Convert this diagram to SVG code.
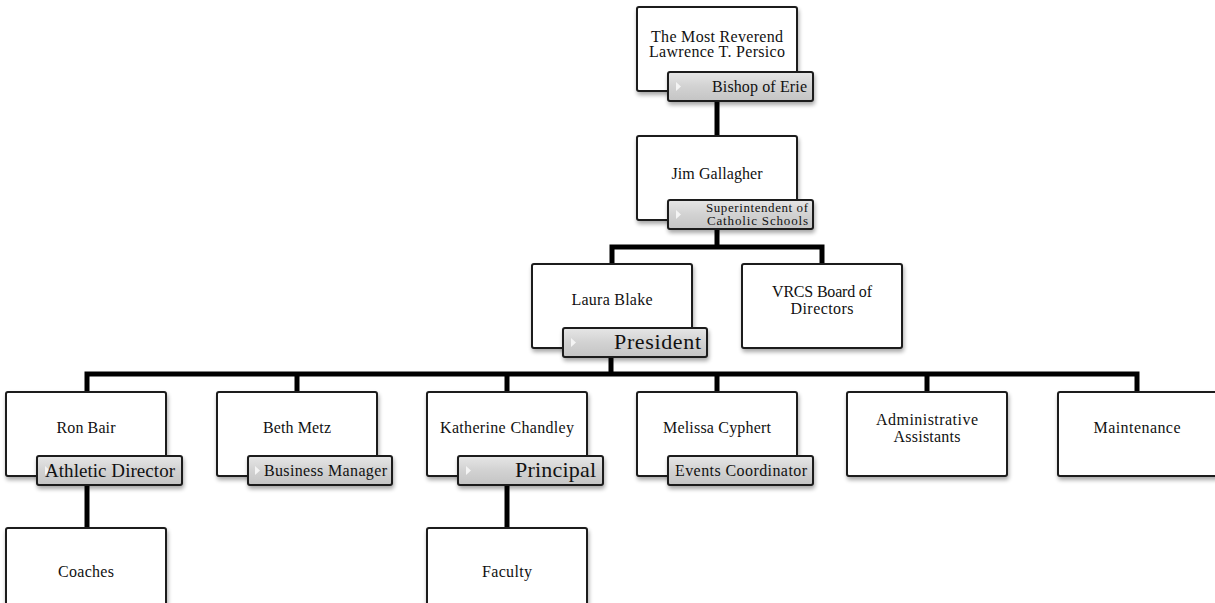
<svg xmlns="http://www.w3.org/2000/svg" width="1215" height="603" viewBox="0 0 1215 603">
<defs>
  <filter id="sh" x="-10%" y="-10%" width="130%" height="140%">
    <feGaussianBlur in="SourceAlpha" stdDeviation="2"/>
    <feOffset dx="1" dy="3" result="b"/>
    <feComponentTransfer><feFuncA type="linear" slope="0.35"/></feComponentTransfer>
    <feMerge><feMergeNode/><feMergeNode in="SourceGraphic"/></feMerge>
  </filter>
  <linearGradient id="lg" x1="0" y1="0" x2="0" y2="1">
    <stop offset="0" stop-color="#e6e6e6"/>
    <stop offset="0.5" stop-color="#d2d2d2"/>
    <stop offset="1" stop-color="#c4c4c4"/>
  </linearGradient>
</defs>
<style>
  .box{fill:#fff;stroke:#1a1a1a;stroke-width:2;filter:url(#sh)}
  .lab{fill:url(#lg);stroke:#1a1a1a;stroke-width:2;filter:url(#sh)}
  .tri{fill:#f4f4f4}
  .t{font-family:"Liberation Serif","DejaVu Serif",serif;font-size:16px;fill:#111;text-anchor:middle}
  .r{font-family:"Liberation Serif","DejaVu Serif",serif;fill:#111;text-anchor:end}
  .con{stroke:#000;stroke-width:5;fill:none}
</style>
<rect width="1215" height="603" fill="#fff"/>
<g id="connectors">
  <path class="con" d="M717 101 V136"/>
  <path class="con" d="M717 229 V247 M612 264 V247 H822 V264"/>
  <path class="con" d="M611 357 V374 M87 392 V374 H1137 V392 M297 374 V392 M507 374 V392 M717 374 V392 M927 374 V392"/>
  <path class="con" d="M87 486 V528"/>
  <path class="con" d="M507 486 V528"/>
</g>
<g id="bishop">
  <rect class="box" x="637" y="7" width="160" height="84" rx="2"/>
  <text class="t" x="717" y="42" textLength="132" lengthAdjust="spacing">The Most Reverend</text>
  <text class="t" x="717" y="57" textLength="136" lengthAdjust="spacing">Lawrence T. Persico</text>
  <rect class="lab" x="668" y="72" width="145" height="29" rx="2"/>
  <path class="tri" d="M676 82 L681 86.5 L676 91 Z"/>
  <text class="r" x="807" y="92" font-size="16" textLength="95" lengthAdjust="spacing">Bishop of Erie</text>
</g>
<g id="gallagher">
  <rect class="box" x="637" y="136" width="160" height="84" rx="2"/>
  <text class="t" x="717" y="179" textLength="91" lengthAdjust="spacing">Jim Gallagher</text>
  <rect class="lab" x="668" y="200" width="145" height="29" rx="2"/>
  <path class="tri" d="M676 210 L681 214.5 L676 219 Z"/>
  <text class="r" x="808" y="212" font-size="13" textLength="102" lengthAdjust="spacing">Superintendent of</text>
  <text class="r" x="808" y="225" font-size="13" textLength="101" lengthAdjust="spacing">Catholic Schools</text>
</g>
<g id="blake">
  <rect class="box" x="532" y="264" width="160" height="84" rx="2"/>
  <text class="t" x="612" y="305" textLength="81" lengthAdjust="spacing">Laura Blake</text>
  <rect class="lab" x="563" y="328" width="144" height="29" rx="2"/>
  <path class="tri" d="M571 338 L576 342.5 L571 347 Z"/>
  <text class="r" x="701" y="349" font-size="22" textLength="87" lengthAdjust="spacing">President</text>
</g>
<g id="board">
  <rect class="box" x="742" y="264" width="160" height="84" rx="2"/>
  <text class="t" x="822" y="297" textLength="100" lengthAdjust="spacing">VRCS Board of</text>
  <text class="t" x="822" y="314" textLength="63" lengthAdjust="spacing">Directors</text>
</g>
<g id="bair">
  <rect class="box" x="6" y="392" width="160" height="84" rx="2"/>
  <text class="t" x="86" y="433" textLength="59" lengthAdjust="spacing">Ron Bair</text>
  <rect class="lab" x="37" y="456" width="145" height="29" rx="2"/>
  <path class="tri" d="M45 466 L50 470.5 L45 475 Z"/>
  <text class="r" x="175" y="477" font-size="19" textLength="130" lengthAdjust="spacing">Athletic Director</text>
</g>
<g id="metz">
  <rect class="box" x="217" y="392" width="160" height="84" rx="2"/>
  <text class="t" x="297" y="433" textLength="68" lengthAdjust="spacing">Beth Metz</text>
  <rect class="lab" x="248" y="456" width="144" height="29" rx="2"/>
  <path class="tri" d="M255 466 L260 470.5 L255 475 Z"/>
  <text class="r" x="387" y="476" font-size="16" textLength="123" lengthAdjust="spacing">Business Manager</text>
</g>
<g id="chandley">
  <rect class="box" x="427" y="392" width="160" height="84" rx="2"/>
  <text class="t" x="507" y="433" textLength="134" lengthAdjust="spacing">Katherine Chandley</text>
  <rect class="lab" x="458" y="456" width="145" height="29" rx="2"/>
  <path class="tri" d="M466 466 L471 470.5 L466 475 Z"/>
  <text class="r" x="596" y="477" font-size="22" textLength="81" lengthAdjust="spacing">Principal</text>
</g>
<g id="cyphert">
  <rect class="box" x="637" y="392" width="160" height="84" rx="2"/>
  <text class="t" x="717" y="433" textLength="108" lengthAdjust="spacing">Melissa Cyphert</text>
  <rect class="lab" x="668" y="456" width="145" height="29" rx="2"/>
  <path class="tri" d="M676 466 L681 470.5 L676 475 Z"/>
  <text class="r" x="807" y="476" font-size="16" textLength="132" lengthAdjust="spacing">Events Coordinator</text>
</g>
<g id="assistants">
  <rect class="box" x="847" y="392" width="160" height="84" rx="2"/>
  <text class="t" x="927" y="425" textLength="102" lengthAdjust="spacing">Administrative</text>
  <text class="t" x="927" y="442" textLength="67" lengthAdjust="spacing">Assistants</text>
</g>
<g id="maintenance">
  <rect class="box" x="1058" y="392" width="160" height="84" rx="2"/>
  <text class="t" x="1137" y="433" textLength="87" lengthAdjust="spacing">Maintenance</text>
</g>
<g id="coaches">
  <rect class="box" x="6" y="528" width="160" height="84" rx="2"/>
  <text class="t" x="86" y="577" textLength="56" lengthAdjust="spacing">Coaches</text>
</g>
<g id="faculty">
  <rect class="box" x="427" y="528" width="160" height="84" rx="2"/>
  <text class="t" x="507" y="577" textLength="50" lengthAdjust="spacing">Faculty</text>
</g>
</svg>
